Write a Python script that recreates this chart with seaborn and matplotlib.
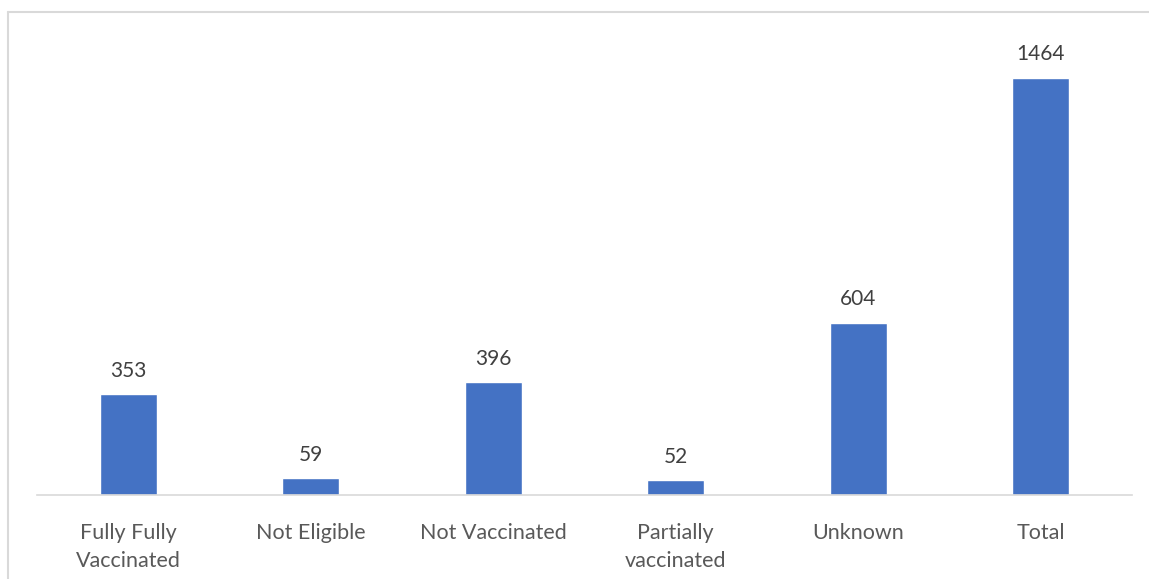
import matplotlib
matplotlib.use("Agg")
import matplotlib.pyplot as plt
import seaborn as sns
import pandas as pd
from matplotlib.lines import Line2D

categories = ["Fully Fully\nVaccinated", "Not Eligible", "Not Vaccinated",
              "Partially\nvaccinated", "Unknown", "Total"]
counts = [353, 59, 396, 52, 604, 1464]

df = pd.DataFrame({"status": categories, "count": counts})

sns.set_style("white")
plt.rcParams['font.family'] = ['Lato', 'DejaVu Sans']

fig = plt.figure(figsize=(11.49, 5.79), dpi=100)
ax = fig.add_axes([37 / 1149, 84 / 579, 1095 / 1149, 453 / 579])

sns.barplot(data=df, x="status", y="count", color="#4472C4", width=0.31,
            saturation=1, ax=ax)

for p, v in zip(ax.patches, counts):
    ax.text(p.get_x() + p.get_width() / 2, v + 48, str(v), ha="center",
            va="bottom", fontsize=15, color="#404040")

ax.set_ylim(0, 1590)
ax.set_xlim(-0.5, 5.5)
ax.set_xlabel("")
ax.set_ylabel("")
ax.set_yticks([])
ax.tick_params(axis="x", length=0, pad=20, labelsize=15.5, labelcolor="#595959")
for lab in ax.get_xticklabels():
    lab.set_linespacing(1.5)
for s in ["top", "right", "left"]:
    ax.spines[s].set_visible(False)
ax.spines["bottom"].set_color("#D9D9D9")
ax.spines["bottom"].set_linewidth(1.2)

# outer chart frame (only left and top are visible in the crop)
fig.add_artist(Line2D([8 / 1149, 8 / 1149], [0, 567 / 579], color="#D9D9D9", lw=1.5,
                      transform=fig.transFigure))
fig.add_artist(Line2D([8 / 1149, 1], [567 / 579, 567 / 579], color="#D9D9D9", lw=1.5,
                      transform=fig.transFigure))

fig.savefig("out.png", dpi=100)
